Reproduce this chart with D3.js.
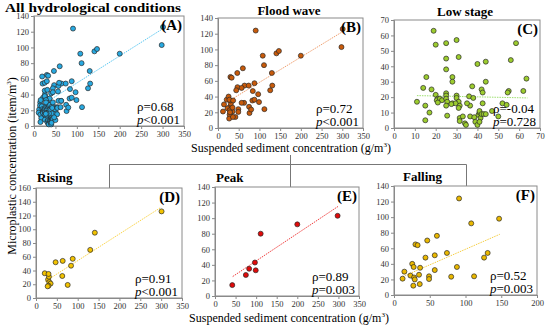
<!DOCTYPE html>
<html lang="en">
<head>
  <meta charset="UTF-8" />
  <title>Microplastic vs suspended sediment</title>
  <style>
    body { margin: 0; background: #fff; }
    svg { display: block; }
    text { font-family: "Liberation Serif", "DejaVu Serif", serif; }
  </style>
</head>
<body>
  <svg width="550" height="329"></svg>
  <script src="https://d3js.org/d3.v7.min.js"></script>
  <script>
    // Points: [SSC (g/m3), MP (item/m3)]
    const rising = [
      [21,36],[29,27],[31,31],[30,35],[32,23],[35,21],[30,18],[28,17],[47,52],
      [64,54],[63,32],[88,57],[84,47],[76,19],[130,70],[141,95],[301,126]
    ];
    const peak = [[42,14],[75,27],[83,35],[97,43],[99,33],[111,80],[200,92],[298,103]];
    const falling = [
      [12,21],[14.5,30],[23,25],[25.5,40],[27.5,36],[28,22.5],[29,20],[27,12],[30,65],
      [33,64],[35,26],[36,14],[36.5,35],[44,48],[46.5,70],[49,24],[49,20.5],[57,32],
      [57,51],[60,76],[74,54],[80,23.5],[88,36],[91,124],[108,92],[112,24],[126,48],
      [131,54],[147,98]
    ];
    const lowStage = [
      [19,63],[20,54],[25,55],[30,57],[25,45],[31,46],[25,38],[28,33],[28,30],[15.5,33],
      [14,26],[18,25],[11,17],[15,14.5],[17,10],[15,5],[20,21.5],[21,19],[20.5,18],[22,19],
      [23,18],[21,16.5],[25,22.5],[25,21],[25,19],[25.5,17],[25,14.5],[25.5,8],[30,21],
      [30,19.5],[31,17],[31.5,14.5],[31,13],[31.5,6.5],[31.5,4.5],[33,7.5],[34,3],[34.5,2],
      [36,20.5],[36.5,14.5],[36.5,7.5],[38,19.5],[37.5,27],[38.5,7],[39,4],[40,2],[40,41.5],
      [40.5,8.5],[41,10],[41.5,6.5],[41,11],[42,9],[42,25],[42.5,23],[42.5,16],[43,9],
      [44,43],[44,30],[44,9],[41,4],[50,7.5],[52,16],[54,15],[58.5,55],[56,44],[55,24],
      [54.5,23],[62,24],[63.5,32],[47,11],[28,16],[35,16],[29.5,16],[27.5,15.5]
    ];
    const floodWave = rising.concat(peak, falling);
    const allConditions = floodWave.concat(lowStage);

    // fitted lines, endpoints
    const fitAll = [[37,33],[301,124]];
    const fitFlood = [[22,33],[302,123]];
    const fitLow = [[11,21],[64,19.5]];
    const fitRising = [[22,24],[300,132]];
    const fitPeak = [[43,25],[299,115]];
    const fitFalling = [[12,23.5],[148,78]];

    const ticks350 = [0,50,100,150,200,250,300,350];
    const ticks200 = [0,50,100,150,200];
    const ticks70 = [0,10,20,30,40,50,60,70];
    const ticks140 = [0,20,40,60,80,100,120,140];
    const ticks160 = [0,20,40,60,80,100,120,140,160];

    const panels = [
      { tag: '(A)', title: 'All hydrological conditions', data: allConditions, fit: fitAll,
        xt: ticks350, yt: ticks140, rho: '0.68', p: '<0.001',
        box: [34, 184, 16, 126], fill: '#27a9e1', line: '#5cc8f2',
        tx: 93, ty: 11.5, anchor: 'middle', tlen: 176 },
      { tag: '(B)', title: 'Flood wave', data: floodWave, fit: fitFlood,
        xt: ticks350, yt: ticks140, rho: '0.72', p: '<0.001',
        box: [218, 363, 18, 128], fill: '#c85a0a', line: '#f0a070',
        tx: 289, ty: 15, anchor: 'middle' },
      { tag: '(C)', title: 'Low stage', data: lowStage, fit: fitLow,
        xt: ticks70, yt: ticks70, rho: '-0.04', p: '=0.728',
        box: [394, 540, 20, 128], fill: '#9ccc2e', line: '#9ee070',
        tx: 465, ty: 16, anchor: 'middle' },
      { tag: '(D)', title: 'Rising', data: rising, fit: fitRising,
        xt: ticks350, yt: ticks160, rho: '0.91', p: '<0.001',
        box: [36, 182, 188, 298], fill: '#f2c200', line: '#fbd54a',
        tx: 37, ty: 182, anchor: 'start' },
      { tag: '(E)', title: 'Peak', data: peak, fit: fitPeak,
        xt: ticks350, yt: ticks140, rho: '0.89', p: '=0.003',
        box: [215, 359, 187, 296], fill: '#e00a0a', line: '#f04040',
        tx: 216, ty: 182, anchor: 'start' },
      { tag: '(F)', title: 'Falling', data: falling, fit: fitFalling,
        xt: ticks200, yt: ticks140, rho: '0.52', p: '=0.003',
        box: [394, 537, 186, 295], fill: '#eab800', line: '#f6cf45',
        tx: 403, ty: 181, anchor: 'start' }
    ];

    const svg = d3.select('svg');

    // connector bracket between top axis label and bottom panels
    const conn = svg.append('g').attr('stroke', '#777').attr('fill', 'none').attr('stroke-width', 1);
    conn.append('path').attr('d', 'M109.5,188V164.5H466.5V186');
    conn.append('path').attr('d', 'M290.5,155V187');

    panels.forEach(pn => {
      const [x0, x1, y0, y1] = pn.box;
      const x = d3.scaleLinear().domain(d3.extent(pn.xt)).range([x0, x1]);
      const y = d3.scaleLinear().domain(d3.extent(pn.yt)).range([y1, y0]);
      const g = svg.append('g');

      g.append('rect')
        .attr('x', x0).attr('y', y0).attr('width', x1 - x0).attr('height', y1 - y0)
        .attr('fill', '#fff').attr('stroke', '#8a8a8a');

      const ax = g.append('g').attr('transform', `translate(0,${y1})`)
        .call(d3.axisBottom(x).tickValues(pn.xt).tickSize(3).tickPadding(2));
      const ay = g.append('g').attr('transform', `translate(${x0},0)`)
        .call(d3.axisLeft(y).tickValues(pn.yt).tickSize(3).tickPadding(2));
      [ax, ay].forEach(a => {
        a.select('.domain').attr('stroke', '#8a8a8a');
        a.selectAll('line').attr('stroke', '#8a8a8a');
        a.selectAll('text').attr('font-family', '"Liberation Serif", serif')
          .attr('font-size', 8.5).attr('fill', '#333');
      });

      g.append('line')
        .attr('x1', x(pn.fit[0][0])).attr('y1', y(pn.fit[0][1]))
        .attr('x2', x(pn.fit[1][0])).attr('y2', y(pn.fit[1][1]))
        .attr('stroke', pn.line).attr('stroke-width', 1).attr('stroke-dasharray', '1.5,1');

      g.selectAll('circle').data(pn.data).enter().append('circle')
        .attr('cx', d => x(d[0])).attr('cy', d => y(d[1])).attr('r', 2.5)
        .attr('fill', pn.fill).attr('stroke', '#2a2a2a').attr('stroke-width', 0.7);

      g.append('text').attr('x', x1 - 2).attr('y', y0 + 14)
        .attr('text-anchor', 'end').attr('font-weight', 'bold').attr('font-size', 15)
        .text(pn.tag);

      g.append('text').attr('x', x1 - 47).attr('y', y1 - 15)
        .attr('font-size', 13).text('ρ=' + pn.rho);
      const pt = g.append('text').attr('x', x1 - 47).attr('y', y1 - 2).attr('font-size', 13);
      pt.append('tspan').attr('font-style', 'italic').text('p');
      pt.append('tspan').text(pn.p);

      const t = g.append('text').attr('x', pn.tx).attr('y', pn.ty)
        .attr('text-anchor', pn.anchor).attr('font-weight', 'bold').attr('font-size', 13)
        .text(pn.title);
      if (pn.tlen) t.attr('textLength', pn.tlen).attr('lengthAdjust', 'spacingAndGlyphs');
    });

    // shared axis titles
    const xl = svg.append('text').attr('x', 291).attr('y', 152).attr('text-anchor', 'middle')
      .attr('font-size', 12);
    xl.append('tspan').text('Suspended sediment concentration (g/m');
    xl.append('tspan').attr('font-size', 7).attr('dy', -5).text('3');
    xl.append('tspan').attr('dy', 5).text(')');

    const xl2 = svg.append('text').attr('x', 289).attr('y', 322).attr('text-anchor', 'middle')
      .attr('font-size', 12);
    xl2.append('tspan').text('Suspended sediment concentration (g/m');
    xl2.append('tspan').attr('font-size', 7).attr('dy', -5).text('3');
    xl2.append('tspan').attr('dy', 5).text(')');

    const yl = svg.append('text').attr('transform', 'translate(16,166) rotate(-90)')
      .attr('text-anchor', 'middle').attr('font-size', 12);
    yl.append('tspan').text('Microplastic concentration (item/m');
    yl.append('tspan').attr('font-size', 7).attr('dy', -5).text('3');
    yl.append('tspan').attr('dy', 5).text(')');
  </script>
</body>
</html>
